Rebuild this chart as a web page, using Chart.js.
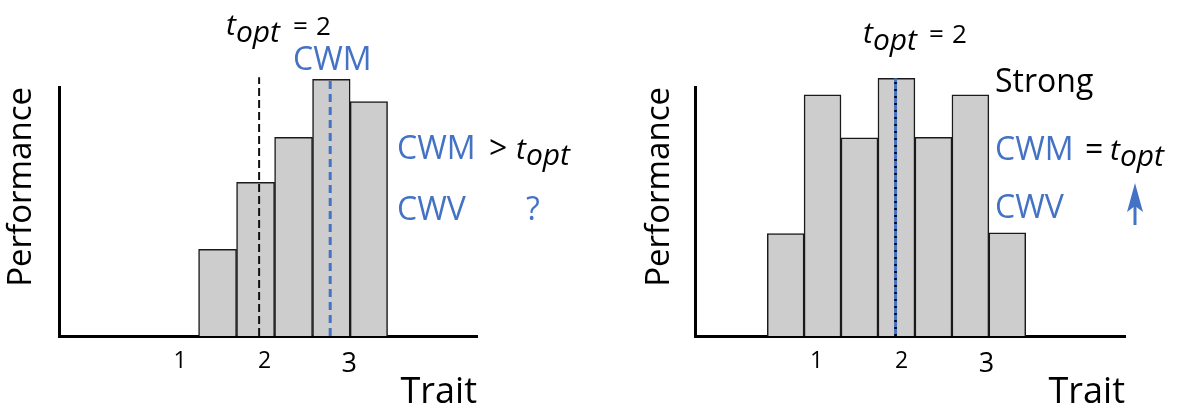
<!DOCTYPE html>
<html>
<head>
<meta charset="utf-8">
<script src="https://cdn.jsdelivr.net/npm/chart.js@4.4.1/dist/chart.umd.min.js"></script>
<style>
  html, body { margin: 0; padding: 0; background: #fff; }
  body { width: 1187px; height: 408px; position: relative; overflow: hidden; }
  .panel { position: absolute; top: 0; height: 408px; }
  #left { left: 0; width: 594px; }
  #right { left: 594px; width: 593px; }
</style>
</head>
<body>
<div class="panel" id="left"><canvas id="grafico_1"></canvas></div>
<div class="panel" id="right"><canvas id="grafico_2"></canvas></div>
<script>
// tick labels on the trait axis
const traitTicks = [1, 2, 3];

// left panel: community shifted above the optimum
const traitLeft = [1.444, 1.893, 2.343, 2.79, 3.232];
const perfLeft = [34.8, 61.7, 79.8, 103.1, 94.1];
const toptLeft = 1.935;
const toptTopLeft = 103.9;
const cwmLeft = 2.775;

// right panel: community centred on the optimum
const traitRight = [0.637, 1.07, 1.506, 1.94, 2.376, 2.811, 3.245];
const perfRight = [41.1, 96.9, 79.6, 103.5, 79.8, 96.9, 41.4];
const cwmRight = 1.93;

const blue = '#4472c4';
const fam = "'Open Sans', sans-serif";
Chart.defaults.font.family = fam;
Chart.defaults.color = '#000';

function pts(xs, ys) {
  return xs.map((x, i) => ({x: x, y: ys[i]}));
}
function vline(x, top) {
  return [{x: x, y: 0}, {x: x, y: top}];
}

// rich text notes (subscripts, mixed colours) and the arrow
const notes = {
  id: 'notes',
  afterDraw(chart, args, opts) {
    const ctx = chart.ctx;
    ctx.save();
    ctx.textAlign = 'left';
    ctx.textBaseline = 'alphabetic';
    (opts.lines || []).forEach(line => {
      let x = line.x;
      line.runs.forEach(r => {
        ctx.font = r.font;
        ctx.fillStyle = r.color || '#000';
        if (r.x !== undefined) x = r.x;
        ctx.fillText(r.text, x, line.y + (r.dy || 0));
        x += ctx.measureText(r.text).width;
      });
    });
    if (opts.arrow) {
      const a = opts.arrow;
      ctx.strokeStyle = blue;
      ctx.fillStyle = blue;
      ctx.lineWidth = 3;
      ctx.beginPath();
      ctx.moveTo(a.x, a.bottom);
      ctx.lineTo(a.x, a.top + 20);
      ctx.stroke();
      ctx.beginPath();
      ctx.moveTo(a.x, a.top);
      ctx.lineTo(a.x - 8, a.top + 29);
      ctx.lineTo(a.x, a.top + 23);
      ctx.lineTo(a.x + 8, a.top + 29);
      ctx.closePath();
      ctx.fill();
    }
    ctx.restore();
  }
};

const it30 = 'italic 30px ' + fam;
const f26 = '26px ' + fam;
const f32 = '32px ' + fam;

function makeChart(id, cfg) {
  return new Chart(document.getElementById(id), {
    type: 'bar',
    data: {
      datasets: [{
        type: 'line',
        data: cfg.dashed,
        borderColor: cfg.dashedColor,
        borderWidth: cfg.dashedWidth,
        borderDash: cfg.dash,
        pointRadius: 0,
        clip: false,
        order: 0
      }, {
        type: 'line',
        data: cfg.solid,
        borderColor: blue,
        borderWidth: 3,
        borderDash: cfg.solidDash || [],
        pointRadius: 0,
        clip: false,
        order: 1
      }, {
        data: cfg.bars,
        backgroundColor: '#cdcdcd',
        borderColor: '#1a1a1a',
        borderWidth: 1.5,
        barThickness: 'flex',
        barPercentage: 1,
        categoryPercentage: 1,
        clip: false,
        order: 2
      }]
    },
    options: {
      responsive: false,
      animation: false,
      events: [],
      layout: { padding: { left: 0, right: cfg.padRight, top: 87, bottom: 0 } },
      plugins: {
        legend: { display: false },
        tooltip: { enabled: false },
        notes: { lines: cfg.lines, arrow: cfg.arrow }
      },
      scales: {
        x: {
          type: 'linear',
          min: -0.43,
          max: cfg.xMax,
          offset: false,
          z: 1,
          grid: { display: false, drawTicks: false },
          border: { display: true, color: '#000', width: 3 },
          afterBuildTicks: s => { s.ticks = traitTicks.map(v => ({value: v})); },
          afterFit: s => { s.height = 72; },
          ticks: {
            padding: 12,
            color: '#000',
            font: c => ({ size: c.tick && c.tick.value === 3 ? 27 : 23 })
          },
          title: {
            display: true,
            text: 'Trait',
            align: 'end',
            color: '#000',
            font: { size: 36 },
            padding: { top: 0, bottom: -6 }
          }
        },
        y: {
          min: 0,
          max: 100,
          z: 1,
          grid: { display: false, drawTicks: false },
          border: { display: true, color: '#000', width: 3 },
          ticks: { display: false },
          afterFit: s => { s.width = cfg.axisLeft; },
          title: {
            display: true,
            text: 'Performance',
            align: 'end',
            color: '#000',
            font: { size: 33 },
            padding: { top: cfg.titlePad, bottom: 0 }
          }
        }
      }
    },
    plugins: [notes]
  });
}

const c1 = document.getElementById('grafico_1');
c1.width = 594; c1.height = 408;
const c2 = document.getElementById('grafico_2');
c2.width = 593; c2.height = 408;

makeChart('grafico_1', {
  bars: pts(traitLeft, perfLeft),
  dashed: vline(toptLeft, toptTopLeft),
  dashedColor: '#111',
  dashedWidth: 2,
  dash: [8, 4],
  solid: vline(cwmLeft, perfLeft[3]),
  solidDash: [8, 5],
  padRight: 117,
  axisLeft: 59,
  titlePad: 2,
  xMax: 4.51,
  lines: [
    { x: 226, y: 35, runs: [
      { text: 't', font: it30 },
      { text: 'opt', font: it30, dy: 7 },
      { text: '=', font: f26, x: 293 },
      { text: '2', font: f26, x: 316 }
    ]},
    { x: 293, y: 70, runs: [{ text: 'CWM', font: f32, color: blue }] },
    { x: 397, y: 159, runs: [
      { text: 'CWM', font: f32, color: blue },
      { text: '>', font: f32, x: 489 },
      { text: 't', font: it30, x: 516 },
      { text: 'opt', font: it30, dy: 6 }
    ]},
    { x: 397, y: 220, runs: [
      { text: 'CWV', font: f32, color: blue },
      { text: '?', font: f32, color: blue, x: 526 }
    ]}
  ]
});

makeChart('grafico_2', {
  bars: pts(traitRight, perfRight),
  dashed: vline(cwmRight, perfRight[3]),
  dashedColor: '#000',
  dashedWidth: 2.5,
  dash: [2, 5],
  solid: vline(cwmRight, perfRight[3]),
  padRight: 62,
  axisLeft: 101,
  titlePad: 46,
  xMax: 4.63,
  lines: [
    { x: 269, y: 43, runs: [
      { text: 't', font: it30 },
      { text: 'opt', font: it30, dy: 7 },
      { text: '=', font: f26, x: 335 },
      { text: '2', font: f26, x: 358 }
    ]},
    { x: 401, y: 92, runs: [{ text: 'Strong', font: f32 }] },
    { x: 401, y: 160, runs: [
      { text: 'CWM', font: f32, color: blue },
      { text: '=', font: f32, x: 491 },
      { text: 't', font: it30, x: 516 },
      { text: 'opt', font: it30, dy: 6 }
    ]},
    { x: 401, y: 218, runs: [{ text: 'CWV', font: f32, color: blue }] }
  ],
  arrow: { x: 541, top: 183, bottom: 225 }
});
</script>
</body>
</html>
